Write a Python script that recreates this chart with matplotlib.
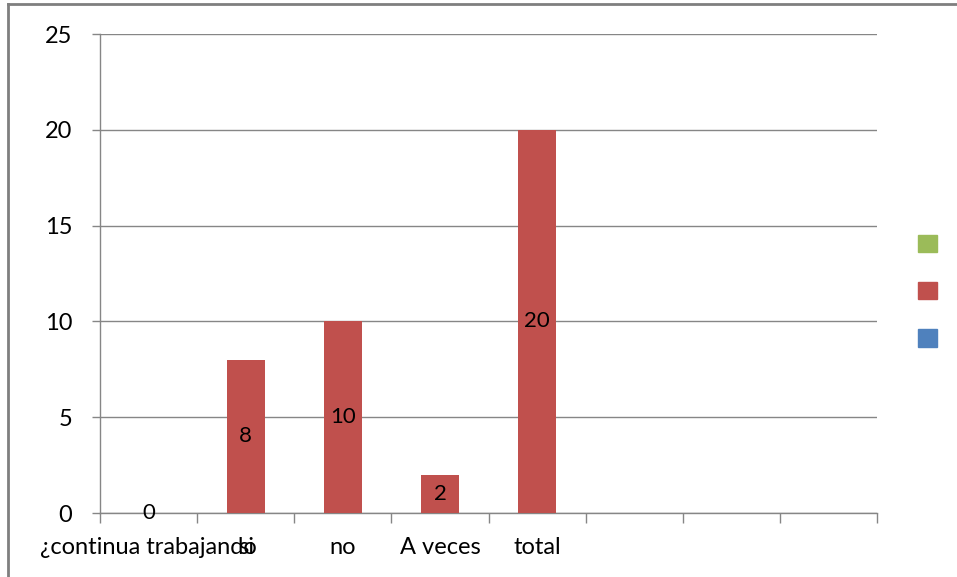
import numpy as np
import matplotlib.pyplot as plt
from matplotlib.lines import Line2D
from matplotlib.patches import Patch

plt.rcParams['font.family'] = ['Lato', 'DejaVu Sans']

categorias = ['¿continua trabajando', 'si', 'no', 'A veces', 'total', '', '', '']
valores = [0, 8, 10, 2, 20]
y_ticks = [0, 5, 10, 15, 20, 25]

rojo = '#C0504D'
verde = '#9BBB59'
azul = '#4F81BD'
gris = '#868686'

fig = plt.figure(figsize=(9.57, 5.77), dpi=100)
ax = fig.add_axes([0.1045, 0.1109, 0.812, 0.830])

x = np.arange(len(valores)) + 0.5
barras = ax.bar(x, valores, width=0.39, color=rojo, zorder=3)
ax.bar_label(barras, labels=[str(v) for v in valores], label_type='center',
             fontsize=16, color='black', zorder=4)

ax.set_xlim(0, len(categorias))
ax.set_ylim(0, 25)
ax.set_yticks(y_ticks)
ax.set_yticklabels([str(t) for t in y_ticks], fontsize=17)
ax.yaxis.grid(True, color=gris, linewidth=1.0, zorder=0)
ax.tick_params(axis='y', length=6, color=gris, pad=14, width=1)

# ticks en los limites de cada categoria, etiquetas en el centro
ax.set_xticks(np.arange(len(categorias) + 1))
ax.set_xticklabels([])
ax.set_xticks(np.arange(len(categorias)) + 0.5, minor=True)
ax.set_xticklabels(categorias, minor=True, fontsize=17)
ax.tick_params(axis='x', which='major', length=7, color=gris, width=1)
ax.tick_params(axis='x', which='minor', length=0, pad=17)

for lado in ['top', 'right']:
    ax.spines[lado].set_visible(False)
for lado in ['left', 'bottom']:
    ax.spines[lado].set_color(gris)
    ax.spines[lado].set_linewidth(1.0)

# leyenda sin texto
marcas = [Patch(color=verde), Patch(color=rojo), Patch(color=azul)]
fig.legend(handles=marcas, labels=['', '', ''], loc='center left',
           bbox_to_anchor=(0.94, 0.494), frameon=False, handlelength=0.9,
           handleheight=0.9, labelspacing=1.3, handletextpad=0, fontsize=15)

# borde del grafico
fig.add_artist(Line2D([8 / 957, 8 / 957], [0, 1 - 4 / 577], color='#7f7f7f', linewidth=2,
                      transform=fig.transFigure))
fig.add_artist(Line2D([8 / 957, 1], [1 - 4 / 577, 1 - 4 / 577], color='#7f7f7f', linewidth=2,
                      transform=fig.transFigure))

fig.savefig('out.png', dpi=100)
